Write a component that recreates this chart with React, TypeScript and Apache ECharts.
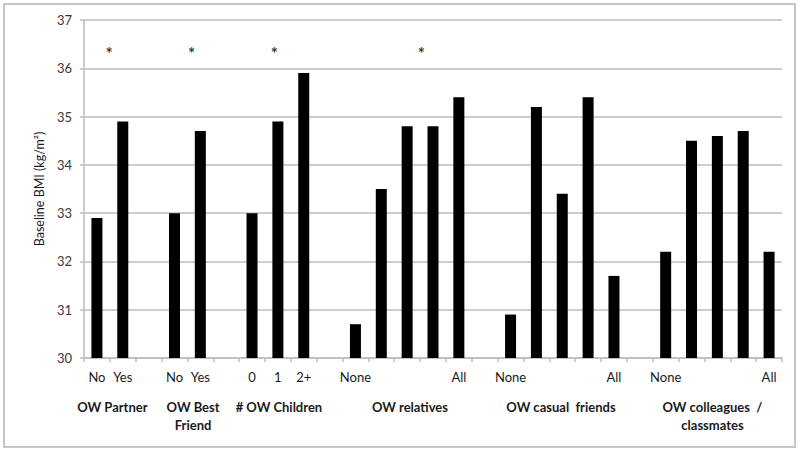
import React, { useEffect, useRef } from "react";
import * as echarts from "echarts";

// 27 category slots (gaps between groups hold no bar)
const tickLabels = [
  "No", "Yes", "",
  "No", "Yes", "",
  "0", "1", "2+", "",
  "None", "", "", "", "All", "",
  "None", "", "", "", "All", "",
  "None", "", "", "", "All",
];
const bmiValues: (number | null)[] = [
  32.9, 34.9, null,
  33.0, 34.7, null,
  33.0, 34.9, 35.9, null,
  30.7, 33.5, 34.8, 34.8, 35.4, null,
  30.9, 35.2, 33.4, 35.4, 31.7, null,
  32.2, 34.5, 34.6, 34.7, 32.2,
];
// significance markers: position in category units, value
const asteriskPos = [0.97, 4.16, 7.36, 13.05];
const asteriskValue = 36.3;
// group labels and their centre position in category units
const groupLabels = [
  "OW Partner",
  "OW Best\nFriend",
  "# OW Children",
  "OW relatives",
  "OW casual  friends",
  "OW colleagues  /\nclassmates",
];
const groupPos = [1.1, 4.22, 7.54, 12.61, 18.45, 24.31];
const yTicks = { min: 30, max: 37, interval: 1 };

const FONT = "Lato, 'Open Sans', sans-serif";
const GRID_LEFT = 84;
const GRID_RIGHT = 18;
const GRID_TOP = 20;
const GRID_BOTTOM = 95;
const W = 800;
const H = 453;

export default function App() {
  const ref = useRef<HTMLDivElement>(null);
  useEffect(() => {
    if (!ref.current) return;
    const chart = echarts.init(ref.current, null, { renderer: "svg", width: W, height: H });
    const catCount = tickLabels.length;
    const gridW = W - GRID_LEFT - GRID_RIGHT;
    const catW = gridW / catCount;
    const labelTop = 398;
    chart.setOption({
      animation: false,
      backgroundColor: "#ffffff",
      grid: { left: GRID_LEFT, right: GRID_RIGHT, top: GRID_TOP, bottom: GRID_BOTTOM, containLabel: false },
      xAxis: [
        {
          type: "category",
          data: tickLabels.map((_, i) => String(i)),
          axisLine: { lineStyle: { color: "#bdbdbd", width: 1.5 } },
          axisTick: { show: true, length: 4, lineStyle: { color: "#bdbdbd", width: 1.5 } },
          axisLabel: {
            interval: 0,
            margin: 12,
            color: "#1a1a1a",
            fontFamily: FONT,
            fontSize: 13,
            formatter: (_v: string, i: number) => tickLabels[i],
          },
        },
        { type: "value", min: 0, max: catCount, show: false },
      ],
      yAxis: {
        type: "value",
        min: yTicks.min,
        max: yTicks.max,
        interval: yTicks.interval,
        name: "Baseline BMI (kg/m\u00B2)",
        nameLocation: "middle",
        nameGap: 36,
        nameTextStyle: { color: "#1a1a1a", fontFamily: FONT, fontSize: 12.5 },
        axisLine: { show: true, lineStyle: { color: "#bdbdbd", width: 1.5 } },
        axisTick: { show: true, length: 4, lineStyle: { color: "#bdbdbd", width: 1.5 } },
        axisLabel: { color: "#3a3a3a", fontFamily: FONT, fontSize: 13, margin: 12 },
        splitLine: { show: true, lineStyle: { color: "#bdbdbd", width: 1.5 } },
      },
      series: [
        {
          type: "bar",
          data: bmiValues.map((v) => (v == null ? "-" : v)),
          barWidth: 11,
          itemStyle: { color: "#000000" },
        },
        {
          type: "scatter",
          xAxisIndex: 1,
          data: asteriskPos.map((p) => [p, asteriskValue]),
          symbolSize: 1,
          itemStyle: { color: "rgba(0,0,0,0)" },
          label: {
            show: true,
            position: "inside",
            formatter: "*",
            color: "#000",
            fontFamily: FONT,
            fontWeight: "bold",
            fontSize: 17,
          },
        },
      ],
      graphic: [
        {
          type: "rect",
          shape: { x: 4, y: 4, width: 791, height: 443 },
          style: { fill: "none", stroke: "#c6c6c6", lineWidth: 2 },
          silent: true,
        },
        ...groupLabels.map((t, i) => ({
          type: "text",
          x: GRID_LEFT + groupPos[i] * catW,
          y: labelTop,
          style: {
            text: t,
            fill: "#1a1a1a",
            font: `bold 13px ${FONT}`,
            textAlign: "center",
            textVerticalAlign: "top",
            lineHeight: 18,
          },
        })),
      ],
    });
    return () => chart.dispose();
  }, []);
  return (
    <div
      ref={ref}
      style={{ position: "fixed", left: 0, top: 0, width: W, height: H, background: "#fff" }}
    />
  );
}
